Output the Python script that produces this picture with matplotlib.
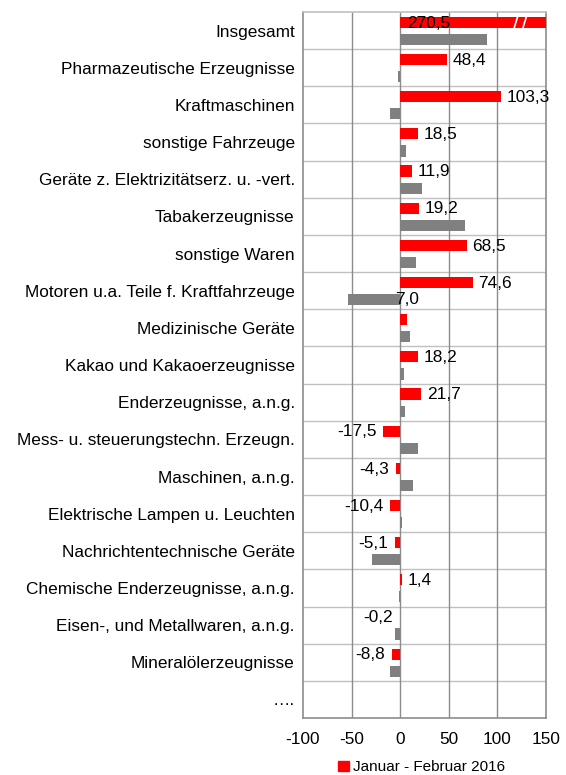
import matplotlib
matplotlib.use("Agg")
import matplotlib.pyplot as plt
from matplotlib.patches import Patch

plt.rcParams['font.family'] = ['Liberation Sans', 'DejaVu Sans']
plt.rcParams['font.size'] = 12.4

# Warengruppen (von oben nach unten)
categories = ["Insgesamt", "Pharmazeutische Erzeugnisse", "Kraftmaschinen",
              "sonstige Fahrzeuge", "Geräte z. Elektrizitätserz. u. -vert.",
              "Tabakerzeugnisse", "sonstige Waren",
              "Motoren u.a. Teile f. Kraftfahrzeuge", "Medizinische Geräte",
              "Kakao und Kakaoerzeugnisse", "Enderzeugnisse, a.n.g.",
              "Mess- u. steuerungstechn. Erzeugn.", "Maschinen, a.n.g.",
              "Elektrische Lampen u. Leuchten", "Nachrichtentechnische Geräte",
              "Chemische Enderzeugnisse, a.n.g.", "Eisen-, und Metallwaren, a.n.g.",
              "Mineralölerzeugnisse", "…."]
# Januar - Februar 2016 (rot)
jan_feb_2016 = [270.5, 48.4, 103.3, 18.5, 11.9, 19.2, 68.5, 74.6, 7.0, 18.2,
                21.7, -17.5, -4.3, -10.4, -5.1, 1.4, -0.2, -8.8, None]
# Vergleichsreihe (grau, ohne Legende)
vergleich = [89, -2, -11, 6, 22, 67, 16, -54, 10.5, 4, 5, 18, 13, 2, -29,
             -1.5, -5, -10.5, None]
xticks = [-100, -50, 0, 50, 100, 150]

xmin, xmax = -100, 150

fig = plt.figure(figsize=(5.66, 7.75), dpi=100)
ax = fig.add_axes([0.5353, 0.0735, 0.4294, 0.911])

red = "#ff0000"
grey = "#808080"

for i, (r, g) in enumerate(zip(jan_feb_2016, vergleich)):
    if r is not None:
        w = min(r, xmax)
        ax.barh(i - 0.22, w, height=0.3, color=red, zorder=3)
    if g is not None:
        ax.barh(i + 0.24, g, height=0.3, color=grey, zorder=3)

# Datenbeschriftungen
for i, r in enumerate(jan_feb_2016):
    if r is None:
        continue
    txt = ("%.1f" % r).replace(".", ",")
    if i == 0:
        ax.text(7, i - 0.2, txt, ha="left", va="center", zorder=5)
        # Bruchzeichen im abgeschnittenen Balken
        for xb in (119, 128):
            ax.plot([xb - 2, xb + 2], [i - 0.05, i - 0.39], color="white",
                    lw=1.2, zorder=4, clip_on=False)
    elif r == 7.0:
        # Beschriftung in der Vorlage verrutscht
        ax.text(-5, i - 0.76, txt, ha="left", va="center", zorder=5)
    elif r >= 0:
        ax.text(r + 6, i - 0.2, txt, ha="left", va="center", zorder=5)
    else:
        ax.text(r - 7, i - 0.2, txt, ha="right", va="center", zorder=5)

ax.set_xlim(xmin, xmax)
ax.set_ylim(len(categories) - 0.5, -0.5)
ax.set_xticks(xticks)
ax.set_xticklabels([str(t) for t in xticks])
ax.set_yticks(range(len(categories)))
ax.set_yticklabels(categories)
ax.tick_params(length=0, pad=6)
ax.tick_params(axis="x", pad=10)

for k in range(len(categories) - 1):
    ax.axhline(k + 0.5, color="#c0c0c0", lw=1, zorder=1)
for t in xticks[1:-1]:
    ax.axvline(t, color="#8c8c8c", lw=1, zorder=1)

for s in ax.spines.values():
    s.set_color("#8c8c8c")
    s.set_linewidth(1.2)
ax.spines["top"].set_color("#c0c0c0")

fig.legend(handles=[Patch(color=red, label="Januar - Februar 2016")],
           loc="center", bbox_to_anchor=(0.745, 0.01), frameon=False,
           handlelength=0.7, handleheight=0.7, handletextpad=0.3,
           fontsize=11)

fig.savefig("out.png", dpi=100)
